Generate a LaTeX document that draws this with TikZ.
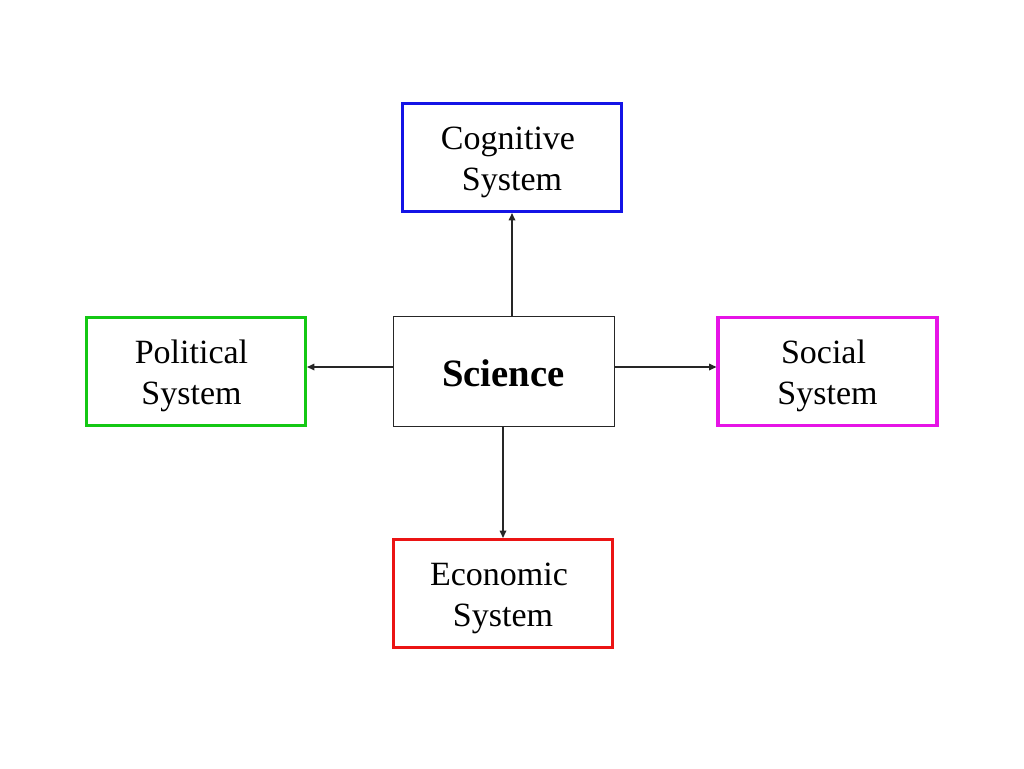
\documentclass[tikz,border=0pt]{standalone}
\usepackage{fontspec}
\setmainfont{Liberation Serif}
\usetikzlibrary{arrows.meta}
\begin{document}
\begin{tikzpicture}[x=0.75pt,y=-0.75pt,
  sysbox/.style={draw, line width=2.4pt, minimum width=219*0.75pt, minimum height=108*0.75pt, inner sep=0pt},
  systext/.style={align=center, inner sep=0pt, font=\fontsize{25.5pt}{30.75pt}\selectfont},
  scibox/.style={draw=black!85, line width=0.6pt, minimum width=221*0.75pt, minimum height=110*0.75pt,
     inner sep=0pt},
  scitext/.style={inner sep=0pt, font=\fontsize{29pt}{34pt}\selectfont\bfseries},
  link/.style={draw=black!85, line width=0.9pt, -{Triangle[length=5.5pt,width=5pt]}}]
\useasboundingbox (0,0) rectangle (1024,768);
\fill[white] (0,0) rectangle (1024,768);
\node[sysbox, draw={rgb,255:red,20;green,20;blue,230}] (cog) at (512,157.5) {};
\node[sysbox, draw={rgb,255:red,20;green,200;blue,20}] (pol) at (196,371.5) {};
\node[sysbox, draw={rgb,255:red,230;green,20;blue,230}] (soc) at (827.5,371.5) {};
\node[sysbox, draw={rgb,255:red,235;green,20;blue,20}] (eco) at (503,593.5) {};
\node[scibox] (sci) at (503.5,371) {};
\node[systext] (cogt) at ([yshift=-5*0.75pt]cog.center) {Cognitive\hspace*{6pt}\\System};
\node[systext] (polt) at ([xshift=-4.5*0.75pt,yshift=-4*0.75pt]pol.center) {Political\\System};
\node[systext] (soct) at ([yshift=-4*0.75pt]soc.center) {Social\hspace*{6pt}\\System};
\node[systext] (ecot) at ([yshift=-5*0.75pt]eco.center) {Economic\hspace*{6pt}\\System};
\node[scitext] (scit) at ([yshift=-2*0.75pt]sci.center) {Science};
\draw[link] (sci.north -| cog.south) -- (cog.south);
\draw[link] (sci.west |- 0,367) -- (pol.east |- 0,367);
\draw[link] (sci.east |- 0,367) -- (soc.west |- 0,367);
\draw[link] (sci.south -| eco.north) -- (eco.north);
\end{tikzpicture}
\end{document}
